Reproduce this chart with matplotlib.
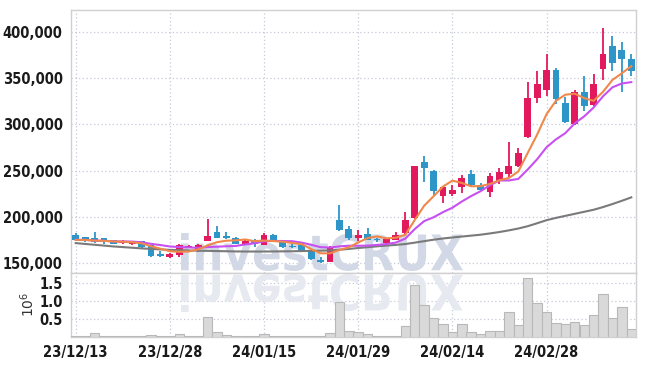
import matplotlib
matplotlib.use('Agg')
import matplotlib.pyplot as plt
import numpy as np
import pandas as pd
from matplotlib.textpath import TextPath
from matplotlib.patches import PathPatch
from matplotlib.font_manager import FontProperties, findfont
from matplotlib.transforms import Affine2D, IdentityTransform

# 일봉 데이터
dates = ['23/12/13', '23/12/14', '23/12/15', '23/12/18', '23/12/19', '23/12/20', '23/12/21', '23/12/22',
         '23/12/26', '23/12/27', '23/12/28',
         '24/01/02', '24/01/03', '24/01/04', '24/01/05', '24/01/08', '24/01/09', '24/01/10', '24/01/11',
         '24/01/12', '24/01/15', '24/01/16', '24/01/17', '24/01/18', '24/01/19', '24/01/22', '24/01/23',
         '24/01/24', '24/01/25', '24/01/26', '24/01/29', '24/01/30', '24/01/31',
         '24/02/01', '24/02/02', '24/02/05', '24/02/06', '24/02/07', '24/02/08', '24/02/13', '24/02/14',
         '24/02/15', '24/02/16', '24/02/19', '24/02/20', '24/02/21', '24/02/22', '24/02/23', '24/02/26',
         '24/02/27', '24/02/28', '24/02/29',
         '24/03/04', '24/03/05', '24/03/06', '24/03/07', '24/03/08', '24/03/11', '24/03/12', '24/03/13']
opens = [180500, 178000, 177000, 177000, 174500, 171500, 170500, 173500, 169000, 159500,
         157000, 159000, 167000, 165500, 174000, 183000, 179000, 177000, 170500, 173500,
         169500, 180000, 174000, 168500, 169500, 162500, 153500, 151500, 196000, 186500,
         177000, 181000, 175500, 172000, 175000, 182500, 199000, 259000, 249000, 222500,
         225000, 232000, 246000, 234500, 226500, 239000, 246000, 255000, 286000, 328500,
         337000, 358500, 323000, 300000, 334500, 320500, 360000, 384500, 381000, 370500]
highs = [182500, 178500, 184000, 177500, 175000, 175000, 173000, 174000, 169500, 163000,
         161000, 171000, 169500, 170000, 198000, 189500, 183000, 178000, 175000, 175500,
         182000, 181000, 175000, 171000, 170000, 164000, 156000, 168000, 212500, 190000,
         185500, 187500, 177500, 177500, 183000, 205000, 255000, 266000, 251000, 233000,
         234000, 245500, 251000, 237000, 247000, 252500, 281000, 274000, 345500, 358000,
         376500, 360500, 329500, 337500, 352000, 355000, 404000, 395500, 389500, 376500]
lows = [174000, 173000, 172000, 170000, 170000, 171000, 169000, 166500, 157000, 157000,
        155500, 157000, 166000, 162000, 173500, 176500, 176000, 170000, 169500, 167500,
        169000, 173500, 166500, 166000, 163000, 153500, 150500, 151000, 185000, 174500,
        174000, 174500, 173000, 171000, 174500, 181500, 198000, 237500, 224000, 215000,
        222000, 225500, 233500, 228000, 221000, 236000, 243000, 253500, 285000, 323500,
        330500, 322500, 302000, 299500, 315000, 319500, 348500, 358000, 335500, 352000]
closes = [175000, 175000, 172500, 173500, 170500, 173500, 172000, 167000, 157500, 157500,
          159500, 169000, 168500, 169000, 179000, 177000, 177000, 170500, 173500, 170000,
          180500, 174000, 167000, 167000, 163500, 154000, 151000, 166500, 186000, 177000,
          180500, 175000, 175000, 176000, 180000, 196500, 254500, 252500, 227500, 232500,
          228500, 242000, 234500, 228500, 244500, 248000, 254500, 269500, 329000, 343500,
          358500, 327000, 302500, 334500, 319500, 344000, 376000, 366500, 370500, 358000]
volumes = [40000, 40000, 110000, 40000, 40000, 40000, 40000, 20000, 50000, 30000,
           30000, 80000, 20000, 20000, 550000, 130000, 50000, 20000, 20000, 30000,
           70000, 40000, 20000, 20000, 20000, 40000, 40000, 110000, 970000, 180000,
           130000, 80000, 20000, 20000, 40000, 300000, 1440000, 890000, 520000, 350000,
           150000, 350000, 150000, 70000, 180000, 180000, 690000, 330000, 1650000, 940000,
           710000, 390000, 360000, 410000, 330000, 610000, 1190000, 520000, 830000, 210000]
# 장기 이동평균 (회색선, 그림에서 읽음)
ma_long = [171500, 170600, 169700, 168800, 167900, 167200, 166500, 165800, 165200, 164700,
           164200, 163900, 163600, 163300, 163100, 162900, 162700, 162500, 162400, 162400,
           162400, 162500, 162600, 162700, 162900, 163100, 163300, 163600, 164300, 165200,
           166200, 167100, 168000, 168800, 169600, 170500, 172000, 173600, 175200, 176500,
           177600, 178600, 179600, 180600, 182000, 183500, 185300, 187300, 189800, 193000,
           196300, 198800, 201000, 203200, 205400, 207600, 210500, 213800, 217300, 221000]
price_ticks = [150000, 200000, 250000, 300000, 350000, 400000]
vol_ticks = [0.5, 1.0, 1.5]

W, H = 645, 366
UP, DOWN = '#e3195d', '#2e95c9'
GRID = '#c5c9d8'

# 좁은 글꼴이 있으면 사용
label_prop = FontProperties(family='DejaVu Sans', stretch='condensed', weight='bold', size=10.5)
print(findfont(label_prop))

x = np.arange(len(dates))
o = np.array(opens)
c = np.array(closes)
ma5 = pd.Series(closes).rolling(5, min_periods=1).mean()
ma10 = pd.Series(closes).rolling(10, min_periods=1).mean()

fig = plt.figure(figsize=(W / 100, H / 100), dpi=100)
ax = fig.add_axes([71 / W, 1 - 272.5 / H, 565 / W, 263 / H])
axv = fig.add_axes([71 / W, 1 - 337 / H, 565 / W, 64.5 / H], sharex=ax)

# 캔들
colors = [UP if cc >= oo else DOWN for oo, cc in zip(opens, closes)]
ax.vlines(x, lows, highs, colors=colors, linewidth=1.3, zorder=3)
body = np.maximum(np.abs(c - o), 700)
ax.bar(x, body, bottom=np.minimum(o, c), width=0.72, color=colors, zorder=3)

ax.plot(x, ma_long, color='#7a7a7a', lw=1.5, zorder=4)
ax.plot(x, ma10, color='#c850f0', lw=1.5, zorder=4)
ax.plot(x, ma5, color='#f0884a', lw=1.5, zorder=4)

# 거래량
axv.bar(x, np.array(volumes) / 1e6, width=1.0, color='#d9d9d9', edgecolor='#b8b8b8',
        linewidth=0.8, zorder=3)

ax.set_xlim(-0.5, len(dates) - 0.5)
ax.set_ylim(139700, 424300)
axv.set_ylim(0, 1.8)

ax.set_yticks(price_ticks)
ax.set_yticklabels(['{:,}'.format(t) for t in price_ticks], fontproperties=label_prop)
axv.set_yticks(vol_ticks)
axv.set_yticklabels(['{:.1f}'.format(t) for t in vol_ticks], fontproperties=label_prop)
axv.set_xticks(x[::10])
axv.set_xticklabels(dates[::10], fontproperties=label_prop)
plt.setp(ax.get_xticklabels(), visible=False)
axv.set_ylabel(r'$10^6$', fontsize=10, labelpad=2, color='#333333')

for a in (ax, axv):
    a.grid(True, color=GRID, linestyle=(0, (1, 2)), linewidth=0.9)
    a.tick_params(length=0, pad=6, colors='#1a1a1a')
    for s in a.spines.values():
        s.set_color('#d0d0d0')
        s.set_linewidth(1.0)


def watermark(axis, text, box, color, flip=False):
    fp = FontProperties(family='DejaVu Sans', weight='bold')
    tp = TextPath((0, 0), text, size=100, prop=fp)
    bb = tp.get_extents()
    x0, y0, x1, y1 = box
    sx = (x1 - x0) / bb.width
    sy = (y1 - y0) / bb.height
    if flip:
        tr = Affine2D().translate(-bb.x0, -bb.y0).scale(sx, -sy).translate(x0, H - y0)
    else:
        tr = Affine2D().translate(-bb.x0, -bb.y0).scale(sx, sy).translate(x0, H - y1)
    patch = PathPatch(tr.transform_path(tp), transform=IdentityTransform(),
                      facecolor=color, edgecolor='none', zorder=1.6, clip_on=False)
    axis.add_artist(patch)


watermark(ax, 'investCRUX', (181, 233, 463, 271), '#d2d8e6')
watermark(axv, 'investCRUX', (181, 274, 463, 312), '#e6e9f0', flip=True)

fig.savefig('out.png', dpi=100)
